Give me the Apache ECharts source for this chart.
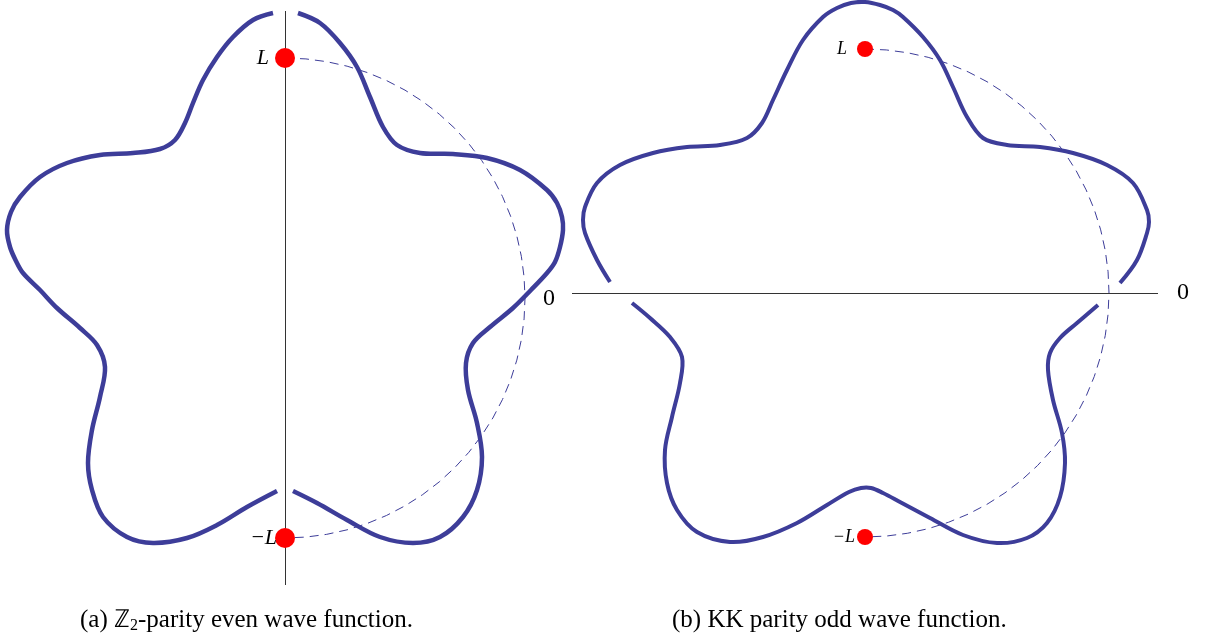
<!DOCTYPE html>
<html>
<head>
<meta charset="utf-8">
<script src="https://cdn.jsdelivr.net/npm/echarts@6/dist/echarts.min.js"></script>
<style>html,body{margin:0;padding:0;background:#fff}#c{width:1213px;height:637px}</style>
</head>
<body>
<div id="c"></div>
<script>
// ---- data (units: panel (a) L = 240, panel (b) L = 244) ----
const leftL = 240;
const rightL = 244;
// panel (a): Z2-parity even wave function, two pieces split at the vertical axis
const leftCurveWest = [[-12,285],[-32,278],[-52,261],[-68,241],[-82,218],[-92,195],[-100,175],[-110,158],[-125,149],[-152,145],[-185,143],[-218,135],[-245,121],[-265,101],[-274,86],[-278,68],[-275,51],[-269,37],[-262,25],[-245,8],[-228,-10],[-205,-30],[-188,-47],[-180,-69],[-185,-99],[-193,-132],[-197,-165],[-193,-192],[-182,-219],[-158,-239],[-132,-245],[-98,-240],[-68,-227],[-38,-209],[-8,-193]];
const leftCurveEast = [[13,285],[35,275],[55,255],[72,231],[85,201],[98,171],[112,153],[135,145],[168,144],[202,140],[235,128],[262,108],[272,95],[277,81],[278,68],[275,51],[270,36],[262,25],[246,8],[228,-10],[205,-29],[188,-45],[181,-65],[183,-92],[192,-125],[197,-159],[192,-192],[178,-219],[155,-239],[128,-245],[95,-239],[62,-222],[32,-205],[8,-193]];
// panel (b): KK parity odd wave function, two pieces split at the horizontal axis
const rightCurveUpper = [[-255,11],[-268,33],[-280,60],[-282,73],[-280,86],[-268,110],[-245,128],[-212,140],[-178,146],[-145,148],[-118,155],[-103,170],[-92,193],[-78,223],[-62,253],[-42,276],[-28,285],[-14,290],[0,291],[15,288],[28,283],[38,276],[58,256],[75,233],[88,206],[102,176],[118,155],[142,148],[175,146],[208,140],[242,128],[268,110],[282,83],[284,71],[282,60],[272,33],[255,10]];
const rightCurveLower = [[-233,-10],[-215,-25],[-195,-44],[-183,-64],[-185,-90],[-193,-124],[-200,-157],[-198,-190],[-188,-217],[-168,-239],[-135,-249],[-102,-244],[-68,-230],[-38,-212],[-16,-199],[-4,-195],[6,-195],[18,-200],[35,-209],[65,-225],[98,-242],[132,-250],[162,-245],[182,-230],[195,-204],[200,-170],[197,-140],[188,-107],[183,-77],[185,-60],[195,-45],[212,-30],[233,-12]];
// dashed half circle of radius L, from +L (90 deg) through the right side to -L (270 deg)
const arcAngles = [90,85,80,75,70,65,60,55,50,45,40,35,30,25,20,15,10,5,0,355,350,345,340,335,330,325,320,315,310,305,300,295,290,285,280,275,270];
const pointLabels = ['L', '\u2212L'];
const axisZeroLabel = '0';

const curveColor = '#3d3d99';
const chart = echarts.init(document.getElementById('c'));

// smooth curve through the read points, positioned by the grid's own axes (api.coord)
function curve(points, gi, w) {
  return {type:'custom', coordinateSystem:'cartesian2d', xAxisIndex:gi, yAxisIndex:gi, data:points, silent:true, z:3,
    renderItem:function(params, api){
      if (params.dataIndex !== 0) return null;
      const pts = points.map(p => api.coord(p));
      return {type:'polyline', silent:true, shape:{points:pts, smooth:0.35},
        style:{stroke:curveColor, lineWidth:w, fill:null, lineCap:'butt', lineJoin:'round'}};
    }};
}
function arc(pi, r) {
  return {type:'line', coordinateSystem:'polar', polarIndex:pi, data:arcAngles.map(a=>[r,a]), showSymbol:false,
    lineStyle:{color:curveColor, width:1, type:[9,6]}, z:2, silent:true};
}
function dots(gi, r, size, fs, d1, d2) {
  return {type:'scatter', xAxisIndex:gi, yAxisIndex:gi, symbolSize:size, itemStyle:{color:'#ff0000', opacity:1}, z:5, silent:true,
    data:[{name:pointLabels[0], value:[0, r], label:{distance:d1}}, {name:pointLabels[1], value:[0, -r], label:{distance:d2}}],
    label:{show:true, position:'left', formatter:'{b}', color:'#000', fontFamily:'Liberation Serif', fontStyle:'italic', fontSize:fs}};
}
function axisRule(gi, md) {
  return {type:'line', xAxisIndex:gi, yAxisIndex:gi, data:[], silent:true,
    markLine:{silent:true, symbol:'none', label:{show:false}, lineStyle:{color:'#333', width:1, type:'solid'}, data:[md]}};
}
const hiddenAxis = {axisLine:{show:false}, axisTick:{show:false}, axisLabel:{show:false}, splitLine:{show:false}};

const option = {
  animation:false,
  backgroundColor:'#fff',
  grid:[
    {left:0, top:11, width:570, height:574},
    {left:572, top:0, width:586, height:586}
  ],
  xAxis:[
    Object.assign({type:'value', gridIndex:0, min:-285, max:285}, hiddenAxis),
    Object.assign({type:'value', gridIndex:1, min:-293, max:293}, hiddenAxis)
  ],
  yAxis:[
    Object.assign({type:'value', gridIndex:0, min:-287, max:287}, hiddenAxis),
    {type:'value', gridIndex:1, min:-293, max:293, interval:293, position:'left',
      axisLine:{show:false}, axisTick:{show:false}, splitLine:{show:false},
      axisLabel:{show:true, margin:17, color:'#000', fontFamily:'Liberation Serif', fontSize:24, verticalAlign:'top', lineHeight:12, formatter:v => v===0 ? axisZeroLabel : ''}},
    {type:'value', gridIndex:1, min:-293, max:293, interval:293, position:'right',
      axisLine:{show:false}, axisTick:{show:false}, splitLine:{show:false},
      axisLabel:{show:true, margin:19, color:'#000', fontFamily:'Liberation Serif', fontSize:24, formatter:v => v===0 ? axisZeroLabel : ''}}
  ],
  polar:[
    {center:[285,298], radius:300},
    {center:[865,293], radius:300}
  ],
  radiusAxis:[
    Object.assign({polarIndex:0, type:'value', min:0, max:300}, hiddenAxis),
    Object.assign({polarIndex:1, type:'value', min:0, max:300}, hiddenAxis)
  ],
  angleAxis:[
    Object.assign({polarIndex:0, type:'value', min:0, max:360, startAngle:0, clockwise:false}, hiddenAxis),
    Object.assign({polarIndex:1, type:'value', min:0, max:360, startAngle:0, clockwise:false}, hiddenAxis)
  ],
  title:[
    {text:'(a) \u2124{sub|2}-parity even wave function.', left:80, top:606, padding:0,
      textStyle:{fontFamily:'Liberation Serif', fontSize:25, fontWeight:'normal', color:'#000', lineHeight:28,
        rich:{sub:{fontFamily:'Liberation Serif', fontSize:16, lineHeight:24, verticalAlign:'bottom', color:'#000'}}}},
    {text:'(b) KK parity odd wave function.', left:672, top:606, padding:0,
      textStyle:{fontFamily:'Liberation Serif', fontSize:25, fontWeight:'normal', color:'#000', lineHeight:28}}
  ],
  series:[
    axisRule(0, {xAxis:0}),
    curve(leftCurveWest, 0, 4.5),
    curve(leftCurveEast, 0, 4.5),
    arc(0, leftL),
    dots(0, leftL, 20, 22, 6, -2),
    axisRule(1, {yAxis:0}),
    curve(rightCurveUpper, 1, 4),
    curve(rightCurveLower, 1, 4),
    arc(1, rightL),
    dots(1, rightL, 16, 18, 10, 2)
  ]
};
chart.setOption(option);
</script>
</body>
</html>
